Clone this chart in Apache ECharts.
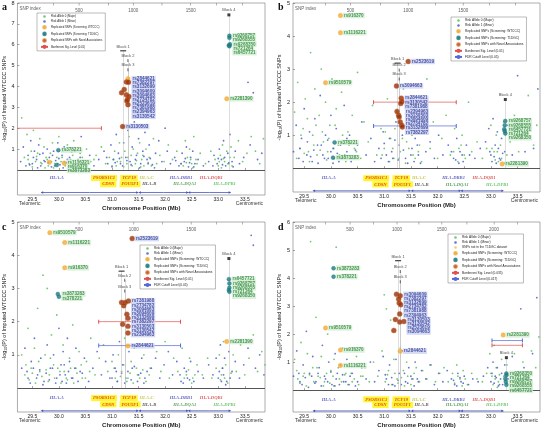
<!DOCTYPE html>
<html><head><meta charset="utf-8">
<script src="https://cdn.jsdelivr.net/npm/echarts@6/dist/echarts.min.js"></script>
<style>html,body{margin:0;padding:0;background:#fff}#c{width:542px;height:432px}</style>
</head><body><div id="c"></div>
<script>
// ---------- DATA ----------
const xTicks = [29.5,30,30.5,31,31.5,32,32.5,33,33.5];
const aYTicks = [1,2,3,4,5,6,7,8];
const bYTicks = [1,2,3,4,5];
const cYTicks = [1,2,3,4,5];
const dYTicks = [1,2,3,4,5,6];

// SNP index ticks on top (position in Mb, label)
const aIdxPos = [29.9,30.38,30.93,31.4,31.94,32.48,32.97,33.46];
const aIdxLab = ['','500','','1000','','1500','',''];
const bIdxPos = [29.9,30.37,30.93,31.45,31.96,32.48,32.97,33.46];
const bIdxLab = ['','500','','1000','','1500','',''];
const cIdxPos = [29.9,30.38,30.93,31.41,31.95,32.49,32.97,33.46];
const cIdxLab = ['','500','','1000','','1500','',''];
const dIdxPos = [29.9,30.36,30.8,31.24,31.65,32.08,32.55,33.06,33.5];
const dIdxLab = ['','500','','1000','','1500','','2000',''];

// background SNPs: flat [x,y,...] (Risk Allele 1 = minor, blue; Risk Allele 0 = major, green)
const aMinor = [29.28,0.4,29.33,1.1,29.38,0.2,29.42,0.7,29.47,1.4,29.5,0.3,29.54,0.9,29.58,0.5,29.62,1.2,29.66,0.2,29.7,0.8,29.74,0.4,29.78,1.0,29.82,0.6,29.86,0.15,29.9,0.9,29.94,0.45,29.98,1.3,30.02,0.25,30.06,0.7,30.1,1.1,30.14,0.35,30.2,0.6,30.25,0.2,30.3,0.9,30.36,0.4,30.42,1.6,30.5,0.3,30.58,0.7,30.66,0.2,30.75,0.5,30.85,0.9,30.92,0.3,30.98,1.2,31.03,0.5,31.08,1.7,31.12,0.8,31.16,0.3,31.22,1.3,31.26,0.6,31.3,1.9,31.34,0.4,31.38,1.1,31.42,2.3,31.46,0.7,31.5,1.5,31.54,0.3,31.58,0.9,31.62,1.8,31.66,0.5,31.7,1.2,31.76,0.25,31.82,0.8,31.88,1.4,31.94,0.4,32.0,2.0,32.04,0.9,32.1,0.3,32.18,0.6,32.26,0.2,32.32,0.8,32.36,0.4,32.4,1.1,32.44,0.15,32.48,0.6,32.52,0.9,32.56,0.3,32.62,0.5,32.72,0.2,32.82,0.4,32.92,0.7,32.98,0.3,33.02,1.0,33.06,0.5,33.1,1.4,33.14,0.2,33.18,0.8,33.22,1.7,33.26,0.4,33.32,0.9,33.4,0.3,33.48,0.6,33.56,4.2,33.6,1.2,33.66,3.7,33.74,0.5,33.82,0.8,
 29.45,0.25,29.52,0.6,29.6,0.1,29.64,0.75,29.72,0.45,29.8,0.35,29.88,0.7,29.92,0.2,30.0,0.55,30.08,0.1,30.16,0.5,30.24,0.85,30.32,0.15,30.4,0.6,30.46,0.35,30.9,0.6,31.0,0.15,31.06,0.35,31.14,0.55,31.2,0.2,31.28,0.45,31.36,0.25,31.44,0.5,31.52,0.1,31.6,0.65,31.68,0.3,31.72,0.55,31.8,0.1,32.2,0.45,32.3,0.3,32.38,0.55,32.46,0.35,32.54,0.15,32.9,0.2,33.0,0.55,33.08,0.25,33.12,0.6,33.2,0.35,33.28,0.15];
const aMajor = [29.3,2.5,29.35,0.6,29.4,1.7,29.44,0.3,29.48,0.9,29.52,1.9,29.56,0.4,29.6,0.8,29.64,1.5,29.68,0.3,29.72,1.1,29.76,0.6,29.8,0.2,29.84,0.8,29.88,1.3,29.92,0.3,29.96,0.6,30.0,1.6,30.04,0.4,30.08,0.9,30.12,0.2,30.16,1.2,30.22,0.5,30.28,1.4,30.34,0.3,30.4,0.8,30.46,0.2,30.52,1.0,30.6,0.4,30.7,0.7,30.8,1.1,30.88,0.3,30.95,0.6,31.0,0.2,31.05,0.9,31.1,0.4,31.14,1.3,31.18,0.6,31.24,0.9,31.28,0.3,31.32,1.6,31.36,0.7,31.4,1.0,31.44,0.3,31.48,0.8,31.52,1.3,31.56,0.5,31.6,0.2,31.64,1.0,31.7,0.6,31.78,1.5,31.84,0.3,31.9,0.7,31.98,0.4,32.06,1.2,32.14,0.5,32.22,0.9,32.3,0.3,32.38,1.4,32.42,0.6,32.46,1.0,32.5,0.3,32.54,1.6,32.58,0.5,32.66,0.8,32.76,0.3,32.86,0.9,32.94,0.5,33.0,0.2,33.04,0.7,33.08,1.2,33.12,0.4,33.16,0.9,33.2,0.3,33.24,1.1,33.3,0.6,33.38,1.4,33.46,0.4,33.54,0.8,33.62,1.6,33.7,0.9,33.78,0.3,33.85,1.5,
 29.42,0.5,29.5,0.15,29.58,0.65,29.66,0.35,29.74,0.1,29.78,0.5,29.86,0.4,29.9,0.1,29.98,0.3,30.06,0.6,30.1,0.4,30.2,0.15,30.26,0.7,30.36,0.5,30.44,0.6,30.56,0.3,30.66,0.5,31.02,0.5,31.08,0.2,31.16,0.4,31.22,0.15,31.3,0.6,31.38,0.2,31.46,0.45,31.54,0.15,31.58,0.7,31.68,0.35,31.74,0.2,32.34,0.2,32.4,0.35,32.48,0.5,32.52,0.1,32.6,0.3,33.02,0.4,33.06,0.1,33.1,0.55,33.18,0.3,33.22,0.6,33.26,0.2];
const bMinor = [29.3,0.5,29.35,1.3,29.4,0.3,29.45,0.9,29.5,1.8,29.55,0.4,29.6,1.1,29.65,0.2,29.7,1.5,29.75,0.7,29.8,2.2,29.85,0.4,29.9,1.0,29.95,0.3,30.0,1.6,30.05,0.6,30.1,1.2,30.15,0.2,30.2,0.8,30.25,1.9,30.3,0.5,30.35,1.0,30.42,0.3,30.5,0.7,30.58,1.4,30.66,0.4,30.75,0.9,30.82,0.2,30.9,0.6,30.98,1.1,31.04,0.4,31.1,0.9,31.16,0.3,31.22,1.4,31.28,0.7,31.34,1.0,31.4,0.3,31.46,1.2,31.52,0.6,31.58,0.9,31.64,0.4,31.7,1.3,31.78,0.5,31.86,0.8,31.94,0.3,32.02,1.0,32.1,0.4,32.2,0.7,32.3,0.3,32.36,0.9,32.42,0.5,32.48,0.2,32.54,0.7,32.6,0.4,32.7,0.3,32.8,0.6,32.9,0.8,32.96,1.2,33.0,0.4,33.04,1.5,33.08,0.7,33.12,1.1,33.16,0.3,33.2,0.9,33.26,0.5,33.32,1.3,33.4,0.4,33.5,2.8,33.56,0.9,33.64,0.5,33.72,1.2,33.8,0.6,33.88,2.4,
 29.42,0.6,29.48,0.2,29.56,0.8,29.62,0.35,29.68,0.55,29.76,0.15,29.82,0.7,29.88,0.3,29.94,0.85,30.0,0.5,30.04,0.15,30.12,0.45,30.18,0.7,30.22,0.3,30.3,0.9,30.38,0.2,30.46,0.55,30.94,0.3,31.0,0.75,31.08,0.2,31.14,0.5,31.2,0.85,31.26,0.25,31.36,0.55,31.44,0.15,31.5,0.4,31.56,0.2,31.62,0.7,31.68,0.15,32.26,0.5,32.34,0.25,32.4,0.15,32.46,0.4,32.98,0.5,33.02,0.2,33.06,0.35,33.1,0.15,33.14,0.6,33.18,0.25,33.22,0.45];
const bMajor = [29.32,1.7,29.38,2.6,29.42,0.6,29.48,1.2,29.52,2.1,29.58,0.5,29.62,3.5,29.66,1.0,29.7,2.4,29.74,0.4,29.78,1.6,29.82,3.0,29.86,0.8,29.9,2.0,29.94,0.5,29.98,1.3,30.02,2.7,30.06,0.3,30.1,1.8,30.14,0.7,30.2,2.3,30.26,0.4,30.32,1.1,30.38,2.6,30.44,0.6,30.5,2.9,30.56,0.3,30.62,1.4,30.7,0.8,30.78,1.9,30.86,0.4,30.94,1.2,31.0,0.6,31.06,2.1,31.12,0.9,31.18,0.3,31.24,1.7,31.3,0.5,31.36,2.4,31.42,0.8,31.48,1.5,31.54,0.4,31.6,1.1,31.66,0.7,31.72,1.9,31.8,2.7,31.86,0.6,31.92,1.4,32.0,0.3,32.08,0.9,32.16,1.6,32.24,0.4,32.32,1.2,32.4,0.6,32.46,1.0,32.52,0.3,32.58,2.0,32.64,0.5,32.74,0.8,32.84,0.3,32.92,0.6,33.0,1.3,33.06,0.5,33.1,1.0,33.14,0.2,33.18,0.7,33.24,1.4,33.3,0.4,33.36,0.8,33.44,1.6,33.52,0.5,33.6,1.1,33.7,2.2,33.8,0.7,33.86,1.3,
 29.36,0.3,29.44,1.0,29.5,0.45,29.56,1.5,29.6,0.2,29.68,0.7,29.72,1.3,29.8,0.55,29.84,1.1,29.92,0.25,29.96,0.9,30.04,0.6,30.08,1.3,30.16,0.4,30.22,1.0,30.28,0.2,30.34,0.7,30.4,1.6,30.48,0.5,30.96,0.4,31.02,1.1,31.1,0.2,31.16,0.6,31.2,1.2,31.28,0.3,31.34,0.9,31.4,0.15,31.46,0.6,31.52,1.0,31.58,0.3,31.64,0.5,31.7,0.2,32.3,0.5,32.38,0.2,32.44,0.7,32.5,0.4,33.02,0.6,33.08,0.25,33.12,0.5,33.2,0.3,33.26,0.15];
const cMinor = [29.3,0.6,29.36,1.2,29.42,0.3,29.48,0.8,29.54,1.5,29.6,0.4,29.66,0.9,29.72,0.2,29.78,1.3,29.84,0.6,29.9,1.0,29.96,0.3,30.0,1.8,30.04,0.7,30.08,1.1,30.12,0.4,30.16,1.5,30.2,0.8,30.26,0.3,30.32,1.2,30.4,0.5,30.48,0.9,30.56,0.2,30.64,0.6,30.72,1.1,30.8,0.4,30.88,0.8,30.96,0.3,31.02,1.0,31.08,0.5,31.14,1.4,31.2,0.7,31.26,0.3,31.32,1.1,31.38,0.6,31.44,1.7,31.5,0.4,31.56,0.9,31.62,0.3,31.68,1.3,31.74,0.6,31.82,0.9,31.9,0.3,31.98,0.7,32.06,1.1,32.14,0.4,32.22,0.8,32.3,0.2,32.36,0.6,32.42,0.3,32.48,0.8,32.54,0.2,32.62,0.5,32.72,0.3,32.82,0.7,32.9,0.4,32.96,0.9,33.0,0.3,33.04,1.3,33.08,0.6,33.12,0.9,33.16,0.2,33.2,1.1,33.26,0.5,33.32,0.8,33.4,0.3,33.48,0.7,33.56,1.2,33.62,4.6,33.66,4.3,33.7,0.6,33.78,1.0,33.86,0.4,
 29.4,0.5,29.46,0.15,29.52,0.6,29.58,0.3,29.64,0.55,29.7,0.1,29.76,0.45,29.82,0.25,29.88,0.6,29.94,0.15,30.02,0.4,30.06,0.2,30.1,0.7,30.14,0.15,30.18,0.5,30.24,0.3,30.3,0.6,30.36,0.2,30.44,0.45,31.0,0.3,31.06,0.6,31.1,0.2,31.18,0.45,31.24,0.15,31.3,0.5,31.36,0.25,31.42,0.65,31.48,0.2,31.54,0.45,31.6,0.15,31.66,0.5,32.28,0.4,32.34,0.15,32.4,0.5,32.46,0.25,33.02,0.5,33.06,0.2,33.1,0.4,33.14,0.1,33.22,0.3];
const cMajor = [29.3,1.0,29.36,0.4,29.42,1.8,29.48,0.6,29.54,1.2,29.6,2.4,29.64,0.5,29.7,3.4,29.74,1.0,29.78,3.0,29.82,0.4,29.86,1.6,29.9,0.7,29.96,2.2,30.02,0.5,30.08,1.3,30.14,0.3,30.2,0.9,30.26,1.9,30.32,0.6,30.38,1.1,30.44,0.3,30.52,0.8,30.6,1.5,30.68,0.4,30.76,0.9,30.84,1.3,30.92,0.5,31.0,0.8,31.06,0.3,31.12,1.0,31.18,0.5,31.24,1.5,31.3,0.3,31.36,0.8,31.42,1.2,31.48,0.4,31.54,2.3,31.6,1.0,31.66,1.8,31.72,0.6,31.78,2.5,31.84,1.1,31.92,0.5,32.0,1.4,32.08,0.3,32.16,0.9,32.24,0.5,32.32,1.2,32.4,0.4,32.46,0.9,32.52,0.3,32.6,0.7,32.7,0.4,32.8,0.9,32.88,0.3,32.96,0.6,33.02,1.0,33.06,0.4,33.1,1.4,33.14,0.7,33.22,0.3,33.28,1.0,33.34,0.5,33.42,1.3,33.5,0.4,33.58,0.9,33.66,1.6,33.74,0.5,33.82,1.1,33.88,0.7,
 29.38,0.7,29.44,0.25,29.5,0.45,29.56,0.15,29.62,0.8,29.68,0.35,29.76,0.55,29.8,0.2,29.84,0.9,29.92,0.3,29.98,0.6,30.04,0.15,30.1,0.5,30.16,0.25,30.22,0.6,30.28,0.15,30.34,0.45,30.42,0.7,30.5,0.3,30.58,0.5,31.04,0.6,31.1,0.2,31.16,0.35,31.22,0.7,31.28,0.2,31.34,0.45,31.4,0.15,31.46,0.6,31.52,0.3,31.58,0.55,31.64,0.2,31.7,0.4,32.36,0.3,32.44,0.55,32.5,0.15,32.56,0.4,33.04,0.25,33.08,0.6,33.12,0.3,33.18,0.15,33.24,0.45];
const dMinor = [29.3,0.5,29.36,1.4,29.42,0.3,29.48,0.9,29.54,2.1,29.6,0.6,29.66,1.2,29.72,0.3,29.78,0.8,29.84,1.6,29.9,0.4,29.96,1.0,30.02,0.2,30.08,1.3,30.12,0.6,30.18,0.9,30.24,0.3,30.3,1.1,30.36,0.5,30.42,1.5,30.5,0.3,30.58,0.8,30.66,0.4,30.74,1.0,30.82,0.3,30.9,0.7,30.98,1.2,31.04,0.4,31.1,0.9,31.16,0.2,31.22,1.1,31.28,0.6,31.34,1.4,31.4,0.3,31.46,0.8,31.52,0.4,31.58,1.0,31.64,0.3,31.7,0.7,31.78,0.4,31.86,0.9,31.94,0.2,32.02,0.6,32.1,0.3,32.18,0.7,32.26,0.4,32.32,0.2,32.38,0.6,32.44,0.3,32.5,0.5,32.58,0.2,32.66,0.4,32.76,0.3,32.86,0.5,32.94,0.8,33.0,0.3,33.04,1.0,33.08,0.5,33.12,0.8,33.16,0.2,33.2,0.6,33.26,0.9,33.32,0.4,33.4,1.2,33.48,0.5,33.56,2.9,33.62,0.8,33.7,0.4,33.78,1.3,33.86,3.3,
 29.4,0.6,29.46,0.2,29.52,0.45,29.58,0.1,29.64,0.5,29.7,0.25,29.76,0.6,29.82,0.15,29.88,0.5,29.94,0.3,30.0,0.65,30.06,0.15,30.1,0.4,30.16,0.2,30.22,0.55,30.28,0.3,30.34,0.2,30.4,0.6,30.46,0.15,31.02,0.55,31.08,0.2,31.14,0.45,31.2,0.15,31.26,0.35,31.32,0.2,31.38,0.6,31.44,0.25,31.5,0.5,31.56,0.15,31.62,0.4,32.3,0.35,32.36,0.15,32.42,0.45,32.48,0.25,33.02,0.6,33.06,0.25,33.1,0.45,33.14,0.15,33.18,0.4,33.22,0.2];
const dMajor = [29.32,1.1,29.38,0.4,29.44,1.7,29.5,0.6,29.56,1.3,29.62,5.3,29.66,0.8,29.72,2.6,29.76,0.5,29.82,1.2,29.88,0.3,29.94,2.0,30.0,0.7,30.06,1.1,30.1,5.1,30.16,0.4,30.22,1.5,30.28,0.6,30.34,0.9,30.4,0.3,30.48,1.2,30.56,0.5,30.64,0.8,30.72,0.3,30.8,1.0,30.88,0.5,30.96,1.4,31.0,3.4,31.04,2.9,31.08,0.7,31.12,2.5,31.18,1.1,31.24,0.4,31.3,1.5,31.36,0.7,31.42,1.0,31.48,3.2,31.54,0.4,31.6,0.8,31.66,0.3,31.72,0.7,31.8,0.4,31.88,0.9,31.96,0.3,32.04,0.6,32.12,0.8,32.2,0.3,32.28,0.6,32.36,0.9,32.42,0.4,32.48,0.7,32.56,0.2,32.64,0.6,32.74,0.4,32.84,0.3,32.92,0.6,32.98,1.3,33.02,0.5,33.06,1.6,33.1,0.8,33.14,0.3,33.2,1.1,33.24,0.5,33.3,0.9,33.36,0.3,33.44,1.3,33.52,0.6,33.6,1.0,33.68,0.4,33.76,1.4,33.84,0.8,33.9,1.9,
 29.36,0.7,29.42,0.25,29.48,0.5,29.54,0.15,29.6,0.55,29.68,0.3,29.74,0.8,29.8,0.45,29.86,0.15,29.92,0.6,29.98,0.25,30.04,0.5,30.08,0.15,30.14,0.8,30.2,0.3,30.26,0.55,30.32,0.2,30.38,0.6,30.44,0.4,30.52,0.2,30.6,0.5,31.02,0.3,31.06,0.55,31.14,0.2,31.2,0.6,31.26,0.25,31.32,0.45,31.38,0.15,31.44,0.5,31.5,0.2,31.56,0.6,32.32,0.25,32.38,0.5,32.46,0.15,32.52,0.4,33.0,0.6,33.04,0.2,33.08,0.4,33.12,0.1,33.16,0.55];

// replicated SNPs: [name, position Mb, -log10 P, type]  W = screening WTCCC, T = screening T1DGC, N = novel
const aSnps = [['rs2844621',31.30,4.37,'W'],['rs7382297',31.27,4.22,'N'],['rs3132699',31.31,4.20,'N'],['rs3094609',31.23,3.86,'N'],['rs3094663',31.18,3.70,'N'],['rs2734782',31.27,3.60,'N'],['rs2523619',31.32,3.52,'N'],['rs7381988',31.29,3.38,'N'],['rs2394963',31.28,3.30,'N'],['rs3130542',31.30,3.13,'N'],['rs3130503',31.20,2.08,'N'],['rs9268757',33.21,6.43,'T'],['rs9268555',33.21,6.33,'T'],['rs9268350',33.22,6.02,'T'],['rs721264',33.20,5.97,'T'],['rs6457721',33.21,5.93,'T'],['rs2281390',33.16,3.41,'W'],['rs378221',29.99,0.95,'T'],['rs1116221',29.82,0.37,'W'],['rs916370',30.10,0.32,'W'],['rs3873283',29.96,0.24,'T']];
const bSnps = [['rs916370',30.18,4.62,'W'],['rs1116221',30.18,4.10,'W'],['rs9510579',29.90,2.59,'W'],['rs378221',30.07,0.78,'T'],['rs3873283',30.04,0.32,'T'],['rs2523619',31.45,3.23,'N'],['rs3094663',31.23,2.49,'N'],['rs2844621',31.32,2.12,'N'],['rs3130542',31.33,2.02,'N'],['rs7381988',31.31,1.96,'N'],['rs2394963',31.24,1.72,'N'],['rs3130503',31.27,1.60,'N'],['rs3094609',31.28,1.55,'N'],['rs2734782',31.30,1.40,'N'],['rs3132699',31.33,1.30,'N'],['rs7382297',31.34,1.25,'N'],['rs9268757',33.27,1.43,'T'],['rs9268555',33.26,1.30,'T'],['rs6457721',33.25,1.18,'T'],['rs721264',33.26,1.12,'T'],['rs9268350',33.27,1.05,'T'],['rs2281390',33.21,0.13,'W']];
const cSnps = [['rs9510579',29.83,4.68,'W'],['rs1116221',30.11,4.38,'W'],['rs916370',30.11,3.62,'W'],['rs3873283',29.98,2.83,'T'],['rs378221',30.00,2.75,'T'],['rs2523619',31.38,4.50,'N'],['rs7381988',31.31,2.62,'N'],['rs2734782',31.18,2.58,'N'],['rs3094663',31.25,2.58,'N'],['rs3094609',31.22,2.48,'N'],['rs3132699',31.28,2.22,'N'],['rs7382297',31.30,2.10,'N'],['rs3130503',31.20,1.92,'N'],['rs3130542',31.30,1.86,'N'],['rs2394963',31.30,1.66,'N'],['rs2844621',31.30,1.27,'W'],['rs6457721',33.20,3.28,'T'],['rs9268757',33.21,3.15,'T'],['rs9268555',33.21,3.02,'T'],['rs721264',33.20,2.95,'T'],['rs9268350',33.21,2.90,'T'],['rs2281390',33.16,1.40,'W']];
const dSnps = [['rs3873283',30.05,4.35,'T'],['rs378221',30.05,4.05,'T'],['rs9510579',29.90,2.22,'W'],['rs916370',30.18,1.43,'W'],['rs1116221',30.18,0.88,'W'],['rs3094609',31.23,3.42,'N'],['rs7382297',31.30,3.37,'N'],['rs3132699',31.27,3.25,'N'],['rs2734782',31.28,3.11,'N'],['rs7381988',31.31,3.05,'N'],['rs2394963',31.29,2.72,'N'],['rs3130503',31.21,2.52,'N'],['rs3130542',31.37,2.45,'N'],['rs2523619',31.29,2.43,'N'],['rs3094663',31.18,2.13,'N'],['rs2844621',31.30,1.39,'W'],['rs2281390',33.23,1.97,'W'],['rs9268350',33.29,0.59,'T'],['rs721264',33.29,0.53,'T'],['rs9268757',33.27,0.41,'T'],['rs9268555',33.28,0.30,'T'],['rs6457721',33.29,0.19,'T']];

// LD blocks: [name, position Mb, height]
const aBlocks = [['Block 1',31.21,5.71],['Block 2',31.30,5.24],['Block 3',31.30,4.80],['Block 4',33.20,7.43]];
const bBlocks = [['Block 1',31.25,3.18],['Block 2',31.28,2.97],['Block 3',31.28,2.70],['Block 4',33.27,2.08]];
const cBlocks = [['Block 1',31.18,3.52],['Block 2',31.24,3.25],['Block 3',31.24,2.92],['Block 4',33.20,3.90]];
const dBlocks = [['Block 1',31.26,4.62],['Block 2',31.30,4.23],['Block 3',31.30,3.87],['Block 4',33.29,1.16]];

// significance lines: [x from, x to, level]
const aBonf = [29.22,30.80,2.0];
const bBonf = [30.80,32.35,2.0];
const bFdr  = [30.80,32.35,1.28];
const cBonf = [30.75,32.29,2.0];
const cFdr  = [30.75,32.29,1.28];
const dBonf = [33.02,33.59,1.60];
const dFdr  = [33.02,33.59,1.77];

// gene annotations
const geneNames = ['HLA-A','PSORS1C1','CDSN','TCF19','POU5F1','HLA-C','HLA-B','HLA-DRB1','HLA-DQA1','HLA-DQB1','HLA-DPB1'];
const geneX     = [29.96,30.85,30.93,31.32,31.34,31.65,31.70,32.30,32.37,32.87,33.12];
const geneRow   = [0,0,1,0,1,0,1,0,1,0,1];
const classNames = ['Class I','Class III','Class II'];
const classFrom  = [29.68,31.52,32.45];
const classTo    = [31.48,32.42,33.22];

// ---------- STYLE / LAYOUT ----------
const FONT = 'Liberation Sans, Arial, sans-serif';
const C_MAJOR = '#5cbf5c', C_MINOR = '#4a5ec8', C_W = '#f2aa33', C_T = '#1d7c82', C_N = '#96300e';
const geneStyle = {
  'HLA-A':{color:'#3a3ab4'}, 'PSORS1C1':{color:'#d8261a',backgroundColor:'#fff200'},
  'CDSN':{color:'#d8261a',backgroundColor:'#fff200'}, 'TCF19':{color:'#d8261a',backgroundColor:'#fff200'},
  'POU5F1':{color:'#d8261a',backgroundColor:'#fff200'}, 'HLA-C':{color:'#bcbc2a'}, 'HLA-B':{color:'#333'},
  'HLA-DRB1':{color:'#3a3ab4'}, 'HLA-DQA1':{color:'#2e8a2e'}, 'HLA-DQB1':{color:'#d83030'}, 'HLA-DPB1':{color:'#44b844'}
};
const pairs = a => { const r=[]; for(let i=0;i<a.length;i+=2) r.push([a[i],a[i+1]]); return r; };

const BASE_LEG = ['Risk Allele 0 (Major)','Risk Allele 1 (Minor)','Replicated SNPs (Screening: WTCCC)','Replicated SNPs (Screening: T1DGC)','Replicated SNPs with Novel Associations'];
const panels = [
 {L:'a',minor:aMinor,major:aMajor,snps:aSnps,blocks:aBlocks,idxPos:aIdxPos,idxLab:aIdxLab,yTicks:aYTicks,bonf:aBonf,fdr:null,
  bonfName:'Bonferroni Sig. Level (0.01)',fdrName:null,grid:{left:17,top:2,width:248,height:193},xmin:29.22,xmax:33.88,ymin:-1.2,ymax:8,
  ann:[0.32,0.57,0.9],leg:{left:37,top:13},legFont:2.8,extra:false},
 {L:'b',minor:bMinor,major:bMajor,snps:bSnps,blocks:bBlocks,idxPos:bIdxPos,idxLab:bIdxLab,yTicks:bYTicks,bonf:bBonf,fdr:bFdr,
  bonfName:'Bonferroni Sig. Level (0.01)',fdrName:'FDR Cutoff Level (0.05)',grid:{left:293,top:2,width:247,height:190},xmin:29.29,xmax:33.92,ymin:-0.72,ymax:5,
  ann:[0.42,0.68,0.95],leg:{left:451,top:17},legFont:3.2,extra:false},
 {L:'c',minor:cMinor,major:cMajor,snps:cSnps,blocks:cBlocks,idxPos:cIdxPos,idxLab:cIdxLab,yTicks:cYTicks,bonf:cBonf,fdr:cFdr,
  bonfName:'Bonferroni Sig. Level (0.01)',fdrName:'FDR Cutoff Level (0.05)',grid:{left:17,top:222,width:248,height:190},xmin:29.22,xmax:33.88,ymin:-0.72,ymax:5,
  ann:[0.42,0.68,0.95],leg:{left:140,top:245},legFont:3.2,extra:false},
 {L:'d',minor:dMinor,major:dMajor,snps:dSnps,blocks:dBlocks,idxPos:dIdxPos,idxLab:dIdxLab,yTicks:dYTicks,bonf:dBonf,fdr:dFdr,
  bonfName:'Bonferroni Sig. Level (0.035)',fdrName:'FDR Cutoff Level (0.017)',grid:{left:293,top:222,width:247,height:190},xmin:29.29,xmax:33.92,ymin:-0.78,ymax:6,
  ann:[0.42,0.68,0.95],leg:{left:448,top:234},legFont:3.2,extra:true}
];

function layoutLabels(p){
  const ppu = p.grid.height/(p.ymax-p.ymin);
  const step = 4.2/ppu;
  const sorted = p.snps.slice().sort((a,b)=>b[2]-a[2]);
  const regions = [s=>s[1]<30.6, s=>s[1]>=30.6&&s[1]<32.6, s=>s[1]>=32.6];
  const out=[];
  regions.forEach((f,ri)=>{
    const list = sorted.filter(f);
    const groups=[]; let cur=null, prevY=Infinity;
    list.forEach(s=>{
      let ly=s[2];
      if(cur && ly>prevY-step){ ly=prevY-step; cur.push([s,ly]); }
      else { cur=[[s,ly]]; groups.push(cur); }
      prevY=ly;
    });
    groups.forEach(g=>{
      const mx=Math.max(...g.map(e=>e[0][1]));
      g.forEach(e=>out.push({name:e[0][0],x:mx,y:e[1],blue:ri===1}));
    });
  });
  return out;
}

const option = {animation:false,textStyle:{fontFamily:FONT},grid:[],xAxis:[],yAxis:[],series:[],legend:[],graphic:[]};

panels.forEach((p,i)=>{
  option.grid.push(Object.assign({show:true,borderColor:'#777',borderWidth:0.6,backgroundColor:'#fff'},p.grid));
  option.xAxis.push({type:'value',gridIndex:i,min:p.xmin,max:p.xmax,
    axisLine:{show:false},splitLine:{show:false},
    axisTick:{show:true,inside:true,length:2,customValues:xTicks,lineStyle:{color:'#666',width:0.6}},
    axisLabel:{customValues:xTicks,fontSize:5,color:'#222',margin:2,formatter:v=>v.toFixed(1)},
    name:'Chromosome Position (Mb)',nameLocation:'middle',nameGap:10,
    nameTextStyle:{fontSize:6,fontWeight:'bold',color:'#222'}});
  option.yAxis.push({type:'value',gridIndex:i,min:p.ymin,max:p.ymax,
    axisLine:{show:false},splitLine:{show:false},
    axisTick:{show:true,inside:true,length:2,customValues:p.yTicks,lineStyle:{color:'#666',width:0.6}},
    axisLabel:{customValues:p.yTicks,fontSize:5.5,color:'#222',margin:3},
    name:'-log{s|10}(P) of Imputed WTCCC SNPs',nameLocation:'middle',nameGap:9,nameRotate:90,
    nameTextStyle:{fontSize:5.5,color:'#222',rich:{s:{fontSize:3.8,padding:[3,0,0,0]}}}});
  const ax={xAxisIndex:i,yAxisIndex:i};
  option.series.push(Object.assign({type:'scatter',name:'Risk Allele 0 (Major)',data:pairs(p.major),symbolSize:1.8,
    itemStyle:{color:C_MAJOR,opacity:0.85},z:2,
    markLine:{silent:true,symbol:'none',label:{show:false},data:[{yAxis:0}],lineStyle:{color:'#555',width:1,type:'solid'}}},ax));
  option.series.push(Object.assign({type:'scatter',name:'Risk Allele 1 (Minor)',data:pairs(p.minor),symbolSize:1.8,
    itemStyle:{color:C_MINOR,opacity:0.85},z:2},ax));
  if(p.extra) option.series.push(Object.assign({type:'scatter',name:'SNPs not in the T1DGC dataset',data:[],symbolSize:2,itemStyle:{color:'#e8c84a'}},ax));
  option.series.push(Object.assign({type:'scatter',name:'blocks',z:6,
    data:p.blocks.map(b=>{
      const n=b[0]; let sz=[0.8,3];
      if(n==='Block 1') sz=[6,1.2]; if(n==='Block 4') sz=[3,3];
      return {name:n,value:[b[1],b[2]],symbol:'rect',symbolSize:sz};
    }),
    itemStyle:{color:'#111'},
    label:{show:true,position:'top',distance:1.2,formatter:'{b}',fontSize:4,color:'#222'},
    markLine:{silent:true,symbol:'none',label:{show:false},lineStyle:{color:'#bbb',width:0.5,type:'solid'},
      data:p.blocks.map(b=>[{coord:[b[1],b[2]]},{coord:[b[1],0]}])}},ax));
  const sigLine=(arr,name,color,startMark)=>Object.assign({type:'line',name,z:5,
    data:[{value:[arr[0],arr[2]],symbol:startMark?'rect':'none'},{value:[arr[1],arr[2]],symbol:'rect'}],
    symbolSize:[1,4],lineStyle:{color,width:0.7},itemStyle:{color}},ax);
  option.series.push(sigLine(p.bonf,p.bonfName,'#e05050',p.L!=='a'));
  if(p.fdr) option.series.push(sigLine(p.fdr,p.fdrName,'#5568d8',true));
  [['W','Replicated SNPs (Screening: WTCCC)',C_W,4.5],['T','Replicated SNPs (Screening: T1DGC)',C_T,4],['N','Replicated SNPs with Novel Associations',C_N,5]].forEach(t=>{
    option.series.push(Object.assign({type:'scatter',name:t[1],z:8,symbolSize:t[3],
      data:p.snps.filter(s=>s[3]===t[0]).map(s=>[s[1],s[2]]),
      itemStyle:{color:t[2],borderColor:t[0]==='N'?'#d2691e':t[2],borderWidth:0.5}},ax));
  });
  option.series.push(Object.assign({type:'scatter',name:'snplabels',z:9,symbolSize:0,silent:true,
    data:layoutLabels(p).map(l=>({name:l.name,value:[l.x,l.y],
      label:{color:l.blue?'#24308e':'#1e7e2c',backgroundColor:l.blue?'#ccd2f2':'#d2ecd2'}})),
    label:{show:true,position:'right',distance:2.5,formatter:'{b}',fontSize:4.6,fontWeight:'bold',padding:[0.5,1,0,1]}},ax));
  option.series.push(Object.assign({type:'scatter',name:'snpindex',z:4,silent:true,
    data:p.idxPos.map((x,k)=>({name:p.idxLab[k],value:[x,p.ymax]})).concat([{name:'SNP index',value:[p.xmin,p.ymax],symbolSize:0,
      label:{position:'right',distance:2,offset:[0,4.5]}}]),
    symbol:'rect',symbolSize:[0.6,2.5],symbolOffset:[0,1.25],itemStyle:{color:'#666'},
    label:{show:true,position:'bottom',distance:2.5,formatter:'{b}',fontSize:4.5,color:'#333'}},ax));
  const rowY=[p.ymin*p.ann[0],p.ymin*p.ann[1]];
  option.series.push(Object.assign({type:'scatter',name:'genes',z:7,symbolSize:0,silent:true,
    data:geneNames.map((g,k)=>({name:g,value:[geneX[k],rowY[geneRow[k]]],label:geneStyle[g]})),
    label:{show:true,position:'inside',formatter:'{b}',fontSize:4.6,fontStyle:'italic',fontWeight:'bold',
      fontFamily:'Liberation Serif, Times New Roman, serif',padding:[1,2,0,2]}},ax));
  const cy=p.ymin*p.ann[2];
  classNames.forEach((cn,k)=>{
    option.series.push(Object.assign({type:'line',name:'class'+k,z:5,silent:true,
      data:[{value:[classFrom[k],cy],symbolRotate:90},{value:[(classFrom[k]+classTo[k])/2,cy],symbol:'none',
        label:{show:true,position:'top',distance:0.5,formatter:cn,fontSize:4.3,color:'#333'}},{value:[classTo[k],cy],symbolRotate:-90}],
      symbol:'triangle',symbolSize:[2.6,2.6],lineStyle:{color:'#4254c4',width:0.8},itemStyle:{color:'#4254c4'}},ax));
  });
  const legNames=BASE_LEG.slice();
  if(p.extra) legNames.splice(2,0,'SNPs not in the T1DGC dataset');
  legNames.push(p.bonfName); if(p.fdrName) legNames.push(p.fdrName);
  option.legend.push({data:legNames,left:p.leg.left,top:p.leg.top,orient:'vertical',itemWidth:7,itemHeight:2.6,itemGap:2,
    padding:[2,3,2,3],backgroundColor:'#fff',borderColor:'#777',borderWidth:0.5,selectedMode:false,
    textStyle:{fontSize:p.legFont,color:'#222',padding:[0,0,0,-2]}});
  const gb=p.grid.top+p.grid.height;
  option.graphic.push({type:'text',left:p.grid.left-15,top:p.grid.top,z:20,
    style:{text:p.L,font:'bold 10px Liberation Serif, Times New Roman, serif',fill:'#111'}});
  option.graphic.push({type:'text',left:p.grid.left+2,top:gb+6,style:{text:'Telomeric',font:'5px '+FONT,fill:'#333'}});
  option.graphic.push({type:'text',right:542-(p.grid.left+p.grid.width)+2,top:gb+6,style:{text:'Centromeric',font:'5px '+FONT,fill:'#333'}});
});

const chart = echarts.init(document.getElementById('c'),null,{renderer:'canvas'});
chart.setOption(option);
</script>
</body></html>
